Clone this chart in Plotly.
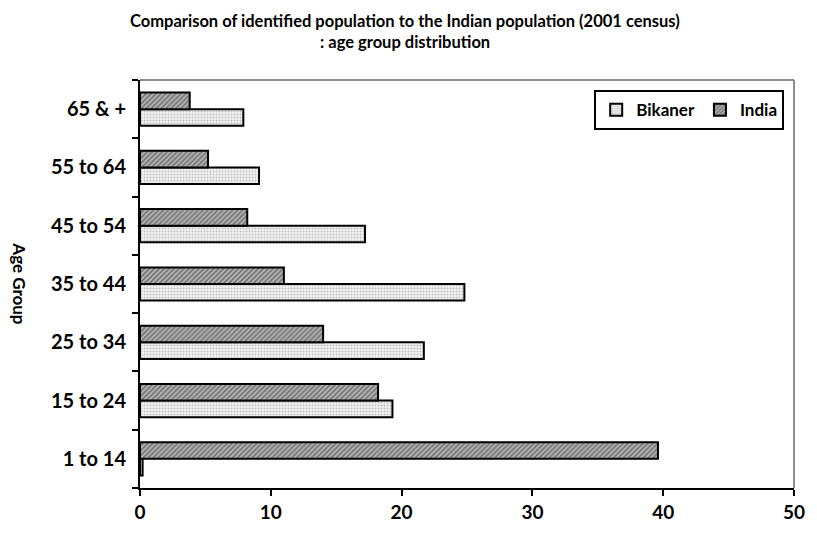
import plotly.graph_objects as go

# Age groups, listed bottom to top on the chart
age_groups = ["1 to 14", "15 to 24", "25 to 34", "35 to 44", "45 to 54", "55 to 64", "65 & +"]
bikaner = [0.2, 19.3, 21.7, 24.8, 17.2, 9.1, 7.9]
india = [39.6, 18.2, 14.0, 11.0, 8.2, 5.2, 3.8]
x_ticks = [0, 10, 20, 30, 40, 50]

FONT = "Lato"
W, H = 817, 535
L, R, T, B = 140, 14, 80, 43
PW, PH = W - L - R, H - T - B


def px_x(x):
    """Container pixel x -> paper coordinate."""
    return (x - L) / PW


def px_y(y):
    """Container pixel y (from top) -> paper coordinate."""
    return (H - B - y) / PH


fig = go.Figure()
fig.add_trace(go.Bar(
    name="Bikaner", y=age_groups, x=bikaner, orientation="h",
    marker=dict(
        color="#efefef",
        line=dict(color="black", width=2),
        pattern=dict(shape=".", fgcolor="#8c8c8c", bgcolor="#f2f2f2", size=3, solidity=0.35),
    ),
))
fig.add_trace(go.Bar(
    name="India", y=age_groups, x=india, orientation="h",
    marker=dict(
        color="#9a9a9a",
        line=dict(color="black", width=2),
        pattern=dict(shape="/", fgcolor="#2e2e2e", bgcolor="#b8b8b8", size=3.5, solidity=0.5),
    ),
))

fig.update_layout(
    width=W, height=H,
    margin=dict(l=L, r=R, t=T, b=B),
    paper_bgcolor="white", plot_bgcolor="white",
    barmode="group", bargap=0.43, bargroupgap=0,
    font=dict(family=FONT, size=19, color="black", weight="bold"),
    showlegend=True,
    legend=dict(
        orientation="h", traceorder="normal",
        x=0.985, xanchor="right", y=0.975, yanchor="top",
        bordercolor="black", borderwidth=2, bgcolor="white",
        font=dict(family=FONT, size=17, weight="bold"),
        itemwidth=30,
    ),
    xaxis=dict(
        range=[0, 50], tickvals=x_ticks, ticktext=[str(v) for v in x_ticks],
        showgrid=False, zeroline=False,
        showline=True, linecolor="black", linewidth=2,
        ticks="outside", ticklen=6, tickwidth=2, tickcolor="black",
        tickfont=dict(family=FONT, size=19, weight="bold"),
    ),
    yaxis=dict(
        type="category", categoryorder="array", categoryarray=age_groups,
        showgrid=False, zeroline=False,
        showline=True, linecolor="black", linewidth=2,
        ticks="outside", ticklen=6, tickwidth=2, tickcolor="black",
        tickson="boundaries", ticklabelstandoff=8,
        tickfont=dict(family=FONT, size=20, weight="bold"),
    ),
    shapes=[
        dict(type="line", xref="paper", yref="paper", x0=0, x1=1, y0=1, y1=1,
             line=dict(color="#8c8c8c", width=2)),
        dict(type="line", xref="paper", yref="paper", x0=1, x1=1, y0=0, y1=1,
             line=dict(color="#8c8c8c", width=2)),
    ],
    annotations=[
        dict(text="Comparison of identified population to the Indian population (2001 census)",
             xref="paper", yref="paper", x=px_x(409), y=px_y(20),
             showarrow=False, xanchor="center", yanchor="middle",
             font=dict(family=FONT, size=16.5, weight="bold")),
        dict(text=": age group distribution",
             xref="paper", yref="paper", x=px_x(409), y=px_y(42),
             showarrow=False, xanchor="center", yanchor="middle",
             font=dict(family=FONT, size=16.5, weight="bold")),
        dict(text="Age Group", xref="paper", yref="paper", x=px_x(18), y=0.5,
             textangle=90, showarrow=False, xanchor="center", yanchor="middle",
             font=dict(family=FONT, size=17, weight="bold")),
    ],
)

fig.write_html("out.html")
